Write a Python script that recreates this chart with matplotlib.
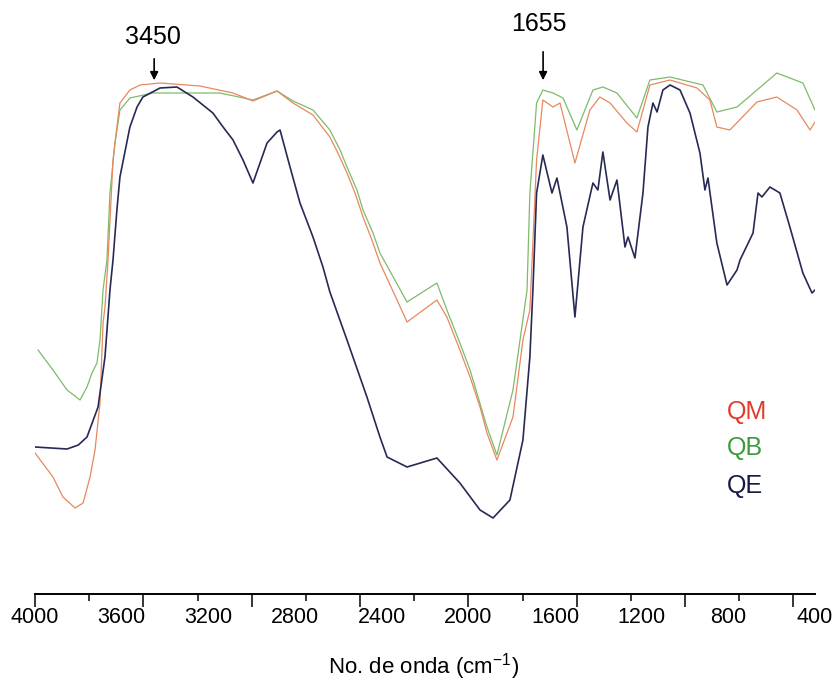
import matplotlib
matplotlib.use("Agg")
import matplotlib.pyplot as plt

plt.rcParams['font.family'] = ['Liberation Sans', 'DejaVu Sans']
plt.rcParams['mathtext.default'] = 'regular'

# ---- data (wavenumber cm-1, transmittance a.u.) ----
qm_w = [4000, 3917, 3871, 3815, 3778, 3746, 3723, 3700, 3686, 3677, 3663, 3640, 3622, 3608,
        3562, 3515, 3423, 3239, 3086, 2994, 2883, 2809, 2717, 2639, 2602, 2560, 2523, 2486,
        2445, 2408, 2329, 2283, 2145, 2099, 2039, 1992, 1946, 1914, 1868, 1794, 1748, 1716,
        1685, 1656, 1609, 1577, 1508, 1439, 1393, 1346, 1268, 1222, 1162, 1069, 945, 885,
        853, 793, 668, 576, 483, 423, 400]
qm_t = [29.4, 24.6, 20.6, 18.4, 19.4, 24.6, 30.0, 39.4, 55.4, 58.6, 68.0, 88.0, 94.6, 99.4,
        102.0, 103.0, 103.4, 102.8, 101.4, 99.8, 101.8, 99.4, 97.0, 92.6, 89.4, 85.4, 81.4, 76.6,
        72.0, 67.4, 60.0, 55.6, 60.0, 56.6, 50.0, 44.6, 38.6, 33.4, 28.0, 36.6, 52.0, 58.0,
        88.0, 100.0, 98.6, 99.4, 87.4, 98.0, 100.6, 99.4, 95.4, 93.6, 103.0, 104.0, 102.4, 100.0,
        94.6, 94.0, 99.6, 100.6, 98.0, 94.0, 95.6]

qb_w = [3986, 3917, 3852, 3792, 3760, 3737, 3714, 3700, 3686, 3668, 3654, 3631, 3608, 3562,
        3456, 3146, 2994, 2883, 2809, 2717, 2639, 2592, 2560, 2514, 2486, 2440, 2408, 2283,
        2145, 2099, 2039, 1992, 1914, 1868, 1794, 1729, 1716, 1685, 1656, 1609, 1563, 1499,
        1425, 1379, 1314, 1222, 1162, 1069, 917, 853, 760, 576, 456, 400]
qb_t = [50.0, 46.0, 42.0, 40.0, 42.6, 45.4, 47.4, 52.0, 62.0, 68.0, 81.4, 91.4, 98.0, 100.4,
        101.4, 101.4, 100.0, 101.8, 99.8, 98.0, 94.0, 90.0, 86.6, 82.0, 78.0, 73.4, 69.4, 59.6,
        63.4, 58.0, 51.4, 46.0, 34.6, 29.0, 42.0, 62.0, 81.4, 99.4, 102.0, 101.4, 100.4, 94.0,
        102.0, 102.6, 101.4, 96.4, 104.0, 104.6, 103.0, 97.6, 98.6, 105.4, 103.4, 98.0]

qe_w = [4000, 3852, 3800, 3760, 3709, 3677, 3654, 3640, 3622, 3608, 3562, 3529, 3502, 3423,
        3345, 3271, 3179, 3132, 3086, 3040, 2994, 2929, 2883, 2869, 2823, 2777, 2717, 2671,
        2639, 2560, 2468, 2408, 2375, 2283, 2145, 2039, 1946, 1886, 1808, 1748, 1716, 1702,
        1685, 1656, 1614, 1591, 1545, 1508, 1471, 1425, 1402, 1379, 1346, 1314, 1277, 1263,
        1231, 1194, 1171, 1148, 1129, 1102, 1069, 1023, 977, 931, 908, 894, 853, 806, 760,
        746, 686, 663, 645, 608, 562, 516, 456, 414, 400]
qe_t = [30.6, 30.2, 31.0, 32.6, 38.6, 48.6, 62.0, 68.0, 78.0, 84.6, 94.6, 98.6, 100.6, 102.4,
        102.6, 100.6, 97.4, 94.6, 92.0, 88.0, 83.4, 91.4, 93.6, 94.0, 86.6, 79.4, 72.6, 66.6,
        61.6, 52.0, 40.6, 32.6, 28.6, 26.6, 28.4, 23.4, 18.0, 16.4, 20.0, 32.0, 48.6, 62.0,
        81.4, 89.0, 81.4, 84.4, 74.6, 56.6, 74.6, 83.4, 82.0, 89.6, 80.0, 84.0, 70.6, 72.6,
        68.4, 81.4, 94.6, 99.4, 97.6, 102.0, 103.0, 102.0, 97.4, 89.4, 82.0, 84.4, 71.4, 63.0, 66.0,
        68.0, 73.4, 81.4, 80.6, 82.6, 81.4, 74.6, 65.4, 61.4, 62.0]

label_ticks = [4000, 3600, 3200, 2800, 2400, 2000, 1600, 1200, 800, 400]
long_ticks = [4000, 3500, 3000, 2500, 2000, 1500, 1000, 500]
short_ticks = [3750, 3250, 2750, 2250, 1750, 1250, 750]

peaks = [3450, 1655]
series_names = ['QM', 'QB', 'QE']

# ---- figure ----
fig = plt.figure(figsize=(8.38, 6.81), dpi=100)
ax = fig.add_axes([35/838, 1 - 593.5/681, 780/838, 593.5/681])

ax.plot(qb_w, qb_t, color='#7dbb6a', lw=0.9)
ax.plot(qm_w, qm_t, color='#e8885e', lw=0.9)
ax.plot(qe_w, qe_t, color='#262a55', lw=1.2)

ax.set_xlim(4000, 400)
ax.set_ylim(1.3, 120)

for s in ['top', 'right', 'left']:
    ax.spines[s].set_visible(False)
ax.spines['bottom'].set_linewidth(1.4)
ax.set_yticks([])

ax.set_xticks(label_ticks)
ax.set_xticklabels([str(v) for v in label_ticks])
ax.set_xticks(short_ticks, minor=True)
ax.tick_params(axis='x', which='major', length=0, pad=10, labelsize=15.5)
ax.tick_params(axis='x', which='minor', length=5, width=1.1, direction='out')

sec = ax.secondary_xaxis('bottom')
sec.spines['bottom'].set_visible(False)
sec.set_xticks(long_ticks)
sec.set_xticklabels([])
sec.tick_params(axis='x', length=9, width=1.1, direction='out')

ax.set_xlabel(r'No. de onda (cm$^{-1}$)', fontsize=16)
ax.xaxis.set_label_coords(0.4987, -0.097)

# peak annotations
ax.annotate('', xy=(3450, 103.4), xytext=(3450, 108.8),
            arrowprops=dict(arrowstyle='-|>', color='black', lw=1.2, mutation_scale=12))
ax.text(3455, 112.6, str(peaks[0]), ha='center', va='center', fontsize=18)
ax.annotate('', xy=(1655, 103.4), xytext=(1655, 110.2),
            arrowprops=dict(arrowstyle='-|>', color='black', lw=1.2, mutation_scale=12))
ax.text(1675, 115.2, str(peaks[1]), ha='center', va='center', fontsize=18)

# legend-like labels
ax.text(806, 37.6, series_names[0], color='#e23b2b', fontsize=18, ha='left', va='center')
ax.text(806, 30.3, series_names[1], color='#3d9a3d', fontsize=18, ha='left', va='center')
ax.text(806, 22.7, series_names[2], color='#151a45', fontsize=18, ha='left', va='center')

fig.savefig('out.png', dpi=100)
